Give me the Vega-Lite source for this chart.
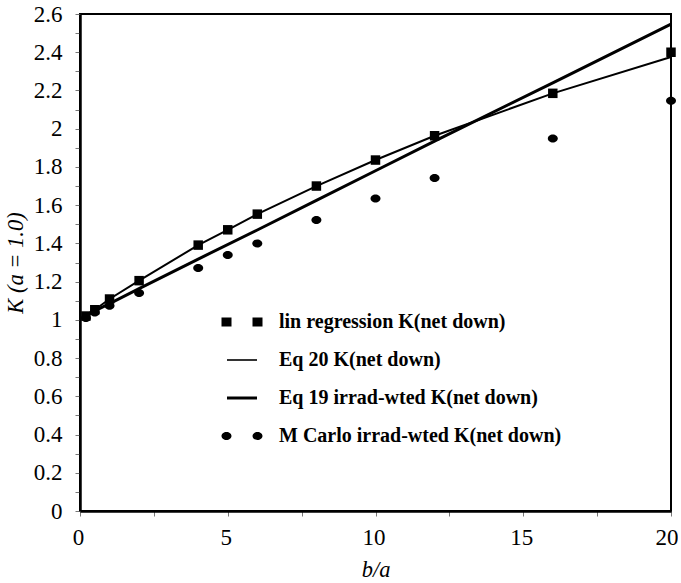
{
  "$schema": "https://vega.github.io/schema/vega-lite/v6.json",
  "width": 591,
  "height": 497,
  "padding": {"left": 4, "top": 3, "right": 0, "bottom": 0},
  "autosize": {"type": "pad"},
  "background": "white",
  "config": {
    "view": {"stroke": "black", "strokeWidth": 2},
    "font": "Liberation Serif",
    "axis": {
      "grid": false,
      "tickSize": 5,
      "tickColor": "#777",
      "tickWidth": 1,
      "domainColor": "black",
      "domainWidth": 2.5,
      "labelFont": "Liberation Serif",
      "titleFont": "Liberation Serif",
      "labelFontSize": 23,
      "titleFontSize": 22.5,
      "labelColor": "black",
      "titleColor": "black",
      "titleFontWeight": "normal",
      "titleFontStyle": "italic",
      "labelOverlap": false,
      "labelFlush": false
    }
  },
  "data": {
    "values": [
      {"series": "lin regression K(net down)", "b_a": 0.2, "K": 1.02},
      {"series": "lin regression K(net down)", "b_a": 0.5, "K": 1.053},
      {"series": "lin regression K(net down)", "b_a": 1, "K": 1.109},
      {"series": "lin regression K(net down)", "b_a": 2, "K": 1.205},
      {"series": "lin regression K(net down)", "b_a": 4, "K": 1.391},
      {"series": "lin regression K(net down)", "b_a": 5, "K": 1.471},
      {"series": "lin regression K(net down)", "b_a": 6, "K": 1.553},
      {"series": "lin regression K(net down)", "b_a": 8, "K": 1.70},
      {"series": "lin regression K(net down)", "b_a": 10, "K": 1.836},
      {"series": "lin regression K(net down)", "b_a": 12, "K": 1.963},
      {"series": "lin regression K(net down)", "b_a": 16, "K": 2.185},
      {"series": "lin regression K(net down)", "b_a": 20, "K": 2.40},
      {"series": "Eq 20 K(net down)", "b_a": 0.2, "K": 1.02},
      {"series": "Eq 20 K(net down)", "b_a": 0.5, "K": 1.053},
      {"series": "Eq 20 K(net down)", "b_a": 1, "K": 1.109},
      {"series": "Eq 20 K(net down)", "b_a": 2, "K": 1.205},
      {"series": "Eq 20 K(net down)", "b_a": 4, "K": 1.391},
      {"series": "Eq 20 K(net down)", "b_a": 5, "K": 1.471},
      {"series": "Eq 20 K(net down)", "b_a": 6, "K": 1.553},
      {"series": "Eq 20 K(net down)", "b_a": 8, "K": 1.70},
      {"series": "Eq 20 K(net down)", "b_a": 10, "K": 1.836},
      {"series": "Eq 20 K(net down)", "b_a": 12, "K": 1.963},
      {"series": "Eq 20 K(net down)", "b_a": 16, "K": 2.185},
      {"series": "Eq 20 K(net down)", "b_a": 20, "K": 2.375},
      {"series": "Eq 19 irrad-wted K(net down)", "b_a": 0.2, "K": 1.025},
      {"series": "Eq 19 irrad-wted K(net down)", "b_a": 1, "K": 1.085},
      {"series": "Eq 19 irrad-wted K(net down)", "b_a": 2, "K": 1.163},
      {"series": "Eq 19 irrad-wted K(net down)", "b_a": 4, "K": 1.318},
      {"series": "Eq 19 irrad-wted K(net down)", "b_a": 6, "K": 1.47},
      {"series": "Eq 19 irrad-wted K(net down)", "b_a": 8, "K": 1.625},
      {"series": "Eq 19 irrad-wted K(net down)", "b_a": 10, "K": 1.78},
      {"series": "Eq 19 irrad-wted K(net down)", "b_a": 12, "K": 1.935},
      {"series": "Eq 19 irrad-wted K(net down)", "b_a": 16, "K": 2.24},
      {"series": "Eq 19 irrad-wted K(net down)", "b_a": 20, "K": 2.547},
      {"series": "M Carlo irrad-wted K(net down)", "b_a": 0.2, "K": 1.01},
      {"series": "M Carlo irrad-wted K(net down)", "b_a": 0.5, "K": 1.039},
      {"series": "M Carlo irrad-wted K(net down)", "b_a": 1, "K": 1.074},
      {"series": "M Carlo irrad-wted K(net down)", "b_a": 2, "K": 1.14},
      {"series": "M Carlo irrad-wted K(net down)", "b_a": 4, "K": 1.271},
      {"series": "M Carlo irrad-wted K(net down)", "b_a": 5, "K": 1.339},
      {"series": "M Carlo irrad-wted K(net down)", "b_a": 6, "K": 1.40},
      {"series": "M Carlo irrad-wted K(net down)", "b_a": 8, "K": 1.522},
      {"series": "M Carlo irrad-wted K(net down)", "b_a": 10, "K": 1.635},
      {"series": "M Carlo irrad-wted K(net down)", "b_a": 12, "K": 1.742},
      {"series": "M Carlo irrad-wted K(net down)", "b_a": 16, "K": 1.949},
      {"series": "M Carlo irrad-wted K(net down)", "b_a": 20, "K": 2.146}
    ]
  },
  "encoding": {
    "x": {
      "field": "b_a",
      "type": "quantitative",
      "scale": {"domain": [0, 20], "nice": false, "zero": false},
      "axis": {
        "title": "b/a",
        "values": [0, 2.5, 5, 7.5, 10, 12.5, 15, 17.5, 20],
        "format": "~g",
        "labelExpr": "datum.value % 5 == 0 ? datum.label : ''",
        "labelPadding": 10,
        "titlePadding": 9,
        "labelAlign": {"condition": {"test": "datum.value == 20", "value": "right"}, "value": "center"},
        "labelOffset": {"condition": {"test": "datum.value == 20", "value": 7}, "value": -2}
      }
    },
    "y": {
      "field": "K",
      "type": "quantitative",
      "scale": {"domain": [0, 2.6], "nice": false, "zero": false},
      "axis": {
        "title": "K (a = 1.0)",
        "values": [0, 0.1, 0.2, 0.3, 0.4, 0.5, 0.6, 0.7, 0.8, 0.9, 1, 1.1, 1.2, 1.3, 1.4, 1.5, 1.6, 1.7, 1.8, 1.9, 2, 2.1, 2.2, 2.3, 2.4, 2.5, 2.6],
        "format": "~g",
        "labelExpr": "round(datum.value * 10) % 2 == 0 ? datum.label : ''",
        "labelPadding": 13,
        "titlePadding": 6
      }
    }
  },
  "layer": [
    {
      "transform": [{"filter": "datum.series == 'Eq 19 irrad-wted K(net down)'"}],
      "mark": {"type": "line", "color": "black", "strokeWidth": 3}
    },
    {
      "transform": [{"filter": "datum.series == 'Eq 20 K(net down)'"}],
      "mark": {"type": "line", "color": "black", "strokeWidth": 2}
    },
    {
      "transform": [{"filter": "datum.series == 'lin regression K(net down)'"}],
      "mark": {"type": "point", "shape": "square", "filled": true, "color": "black", "size": 90, "opacity": 1}
    },
    {
      "transform": [{"filter": "datum.series == 'M Carlo irrad-wted K(net down)'"}],
      "mark": {"type": "point", "shape": "M-1,0A1,0.8 0 1,0 1,0A1,0.8 0 1,0 -1,0Z", "filled": true, "color": "black", "size": 100, "opacity": 1}
    },
    {
      "mark": {"type": "point", "filled": true, "color": "black", "opacity": 0},
      "encoding": {
        "shape": {
          "field": "series",
          "type": "nominal",
          "scale": {
            "domain": ["lin regression K(net down)", "Eq 20 K(net down)", "Eq 19 irrad-wted K(net down)", "M Carlo irrad-wted K(net down)"],
            "range": [
              "M-2.05,-0.45H-1.05V0.45H-2.05Z M1.05,-0.45H2.05V0.45H1.05Z",
              "M-1.5,-0.08H1.5V0.08H-1.5Z",
              "M-1.5,-0.15H1.5V0.15H-1.5Z",
              "M-2.05,0A0.5,0.4 0 1,0 -1.05,0A0.5,0.4 0 1,0 -2.05,0Z M1.05,0A0.5,0.4 0 1,0 2.05,0A0.5,0.4 0 1,0 1.05,0Z"
            ]
          },
          "legend": {
            "orient": "none",
            "legendX": 152,
            "legendY": 298,
            "title": null,
            "padding": 0,
            "labelFont": "Liberation Serif",
            "labelFontWeight": "bold",
            "labelFontSize": 20,
            "labelColor": "black",
            "labelLimit": 0,
            "labelOffset": 27,
            "symbolSize": 400,
            "symbolOpacity": 1,
            "symbolFillColor": "black",
            "symbolStrokeColor": "black",
            "symbolStrokeWidth": 0,
            "rowPadding": 18
          }
        }
      }
    }
  ]
}
